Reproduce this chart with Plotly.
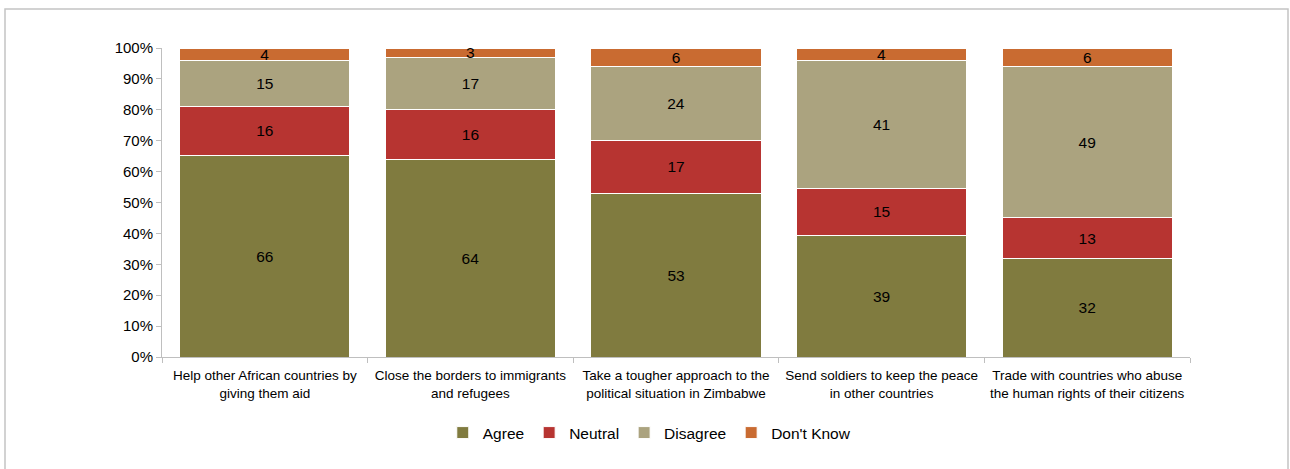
import plotly.graph_objects as go

categories = [
    "Help other African countries by<br>giving them aid",
    "Close the borders to immigrants<br>and refugees",
    "Take a tougher approach to the<br>political situation in Zimbabwe",
    "Send soldiers to keep the peace<br>in other countries",
    "Trade with countries who abuse<br>the human rights of their citizens",
]
agree = [66, 64, 53, 39, 32]
neutral = [16, 16, 17, 15, 13]
disagree = [15, 17, 24, 41, 49]
dont_know = [4, 3, 6, 4, 6]

series = [
    ("Agree", agree, "#807B3F"),
    ("Neutral", neutral, "#B73431"),
    ("Disagree", disagree, "#ABA37F"),
    ("Don't Know", dont_know, "#C96B31"),
]

FONT = "Liberation Sans, Arial, sans-serif"

fig = go.Figure()
for name, vals, color in series:
    fig.add_trace(go.Bar(
        name=name, x=categories, y=vals,
        marker=dict(color=color, line=dict(color="white", width=1)),
        text=[str(v) for v in vals], texttemplate="%{text}",
        textposition="inside", insidetextanchor="middle", textangle=0,
        textfont=dict(size=15.5, color="black", family=FONT),
        constraintext="none",
    ))

fig.update_layout(
    barmode="stack", barnorm="percent", bargap=0.173,
    width=1290, height=469,
    margin=dict(l=162, r=100, t=48, b=112, autoexpand=False),
    paper_bgcolor="white", plot_bgcolor="white",
    font=dict(family=FONT, color="black"),
    uniformtext=dict(minsize=15.5, mode="show"),
    showlegend=True,
    legend=dict(orientation="h", x=0.474, xanchor="center", y=-0.246, yanchor="middle",
                font=dict(size=15.5, family=FONT), traceorder="normal",
                itemwidth=30, tracegroupgap=0),
    xaxis=dict(showline=True, linecolor="#BFBFBF", linewidth=1, ticks="outside",
               tickson="boundaries", ticklen=5, tickcolor="#BFBFBF", tickangle=0,
               automargin=False, ticklabelstandoff=6,
               tickfont=dict(size=13.5, family=FONT), showgrid=False),
    yaxis=dict(range=[0, 100], dtick=10, ticksuffix="%", showline=True,
               linecolor="#BFBFBF", linewidth=1, ticks="outside", ticklen=5,
               tickcolor="#BFBFBF", tickfont=dict(size=15, family=FONT),
               automargin=False, showgrid=False, zeroline=False),
    shapes=[dict(type="rect", xref="paper", yref="paper",
                 x0=(5 - 162) / 1028, x1=(1288 - 162) / 1028,
                 y0=-0.5, y1=(357 - 9) / 309,
                 line=dict(color="#C4C4C4", width=1.5), layer="below")],
)

fig.write_html("out.html")
